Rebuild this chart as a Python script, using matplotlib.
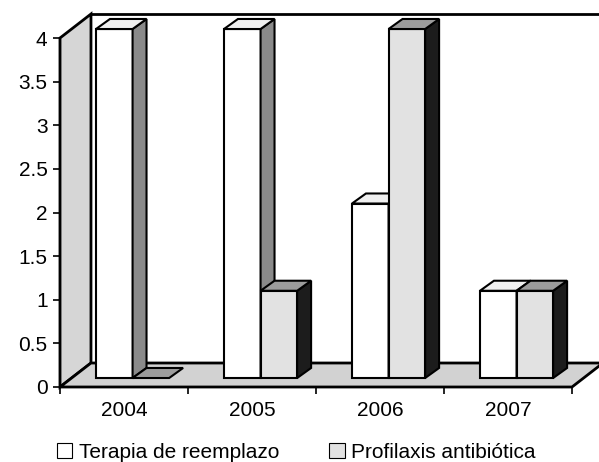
import numpy as np
import matplotlib.pyplot as plt
from matplotlib.patches import Polygon, Patch

years = ["2004", "2005", "2006", "2007"]
terapia = [4, 4, 2, 1]
profilaxis = [0, 1, 4, 1]
series_names = ["Terapia de reemplazo", "Profilaxis antibiótica"]
y_ticks = [0, 0.5, 1, 1.5, 2, 2.5, 3, 3.5, 4]
y_labels = ["0", "0.5", "1", "1.5", "2", "2.5", "3", "3.5", "4"]

# face colours: (front, top, side)
styles = [("#ffffff", "#f0f0f0", "#8a8a8a"),
          ("#e2e2e2", "#9c9c9c", "#1c1c1c")]

# pseudo 3d offsets, in data units
WALL_DX, WALL_DY = 0.242, 0.275
BAR_FX, BAR_FY = 0.067, 0.103
BAR_DX, BAR_DY = 0.109, 0.115
BAR_W = 1 / 3.5
GAP = 0.75 * BAR_W

plt.rcParams['font.family'] = ['Liberation Sans', 'DejaVu Sans']


def poly(ax, pts, fc, z, lw=1.5):
    ax.add_patch(Polygon(pts, closed=True, facecolor=fc, edgecolor="black",
                         linewidth=lw, zorder=z, clip_on=False, joinstyle="miter"))


def draw_bar(ax, x, h, colors, z):
    front, top, side = colors
    x0 = x + BAR_FX
    x1 = x0 + BAR_W
    y0 = BAR_FY
    yt = y0 + h
    if h > 0:
        poly(ax, [(x0, y0), (x1, y0), (x1, yt), (x0, yt)], front, z)
        poly(ax, [(x1, y0), (x1 + BAR_DX, y0 + BAR_DY),
                  (x1 + BAR_DX, yt + BAR_DY), (x1, yt)], side, z)
    poly(ax, [(x0, yt), (x1, yt), (x1 + BAR_DX, yt + BAR_DY),
              (x0 + BAR_DX, yt + BAR_DY)], top, z)


def draw_walls(ax, n):
    # side wall
    poly(ax, [(0, 0), (0, 4), (WALL_DX, 4 + WALL_DY), (WALL_DX, WALL_DY)],
         "#d6d6d6", 1, lw=2)
    # floor
    poly(ax, [(0, 0), (n, 0), (n + WALL_DX, WALL_DY), (WALL_DX, WALL_DY)],
         "#d2d2d2", 1, lw=2)
    # back wall top edge
    ax.plot([WALL_DX, n + WALL_DX], [4 + WALL_DY, 4 + WALL_DY], color="black",
            linewidth=2, clip_on=False, zorder=1)


def main():
    fig = plt.figure(figsize=(5.99, 4.62), dpi=100)
    ax = fig.add_axes([60 / 599, 75 / 462, 512 / 599, 349 / 462])
    n = len(years)
    ax.set_xlim(0, n)
    ax.set_ylim(0, 4)

    draw_walls(ax, n)

    z = 3
    for i in range(n):
        for j, vals in enumerate([terapia, profilaxis]):
            draw_bar(ax, i + GAP + j * BAR_W, vals[i], styles[j], z)
            z += 1

    ax.set_yticks(y_ticks)
    ax.set_yticklabels(y_labels, fontsize=15)
    ax.set_xticks(np.arange(n + 1))
    ax.set_xticklabels([])
    ax.set_xticks(np.arange(n) + 0.5, minor=True)
    ax.set_xticklabels(years, minor=True, fontsize=15)
    ax.tick_params(axis="y", length=5, width=1.2, pad=4)
    ax.tick_params(axis="x", which="major", length=5, width=1.2)
    ax.tick_params(axis="x", which="minor", length=0, pad=10)

    for s in ["top", "right"]:
        ax.spines[s].set_visible(False)
    ax.spines["left"].set_linewidth(1.5)
    ax.spines["bottom"].set_visible(False)
    ax.patch.set_visible(False)

    handles = [Patch(facecolor=styles[0][0], edgecolor="black", linewidth=0.8),
               Patch(facecolor=styles[1][0], edgecolor="black", linewidth=0.8)]
    fig.legend(handles, series_names, loc="center", ncol=2, frameon=False,
               fontsize=15, bbox_to_anchor=(296 / 599, 1 - 452 / 462),
               handlelength=0.75, handleheight=0.75, handletextpad=0.3,
               columnspacing=2.4)

    fig.savefig("out.png", dpi=100)


if __name__ == "__main__":
    main()
